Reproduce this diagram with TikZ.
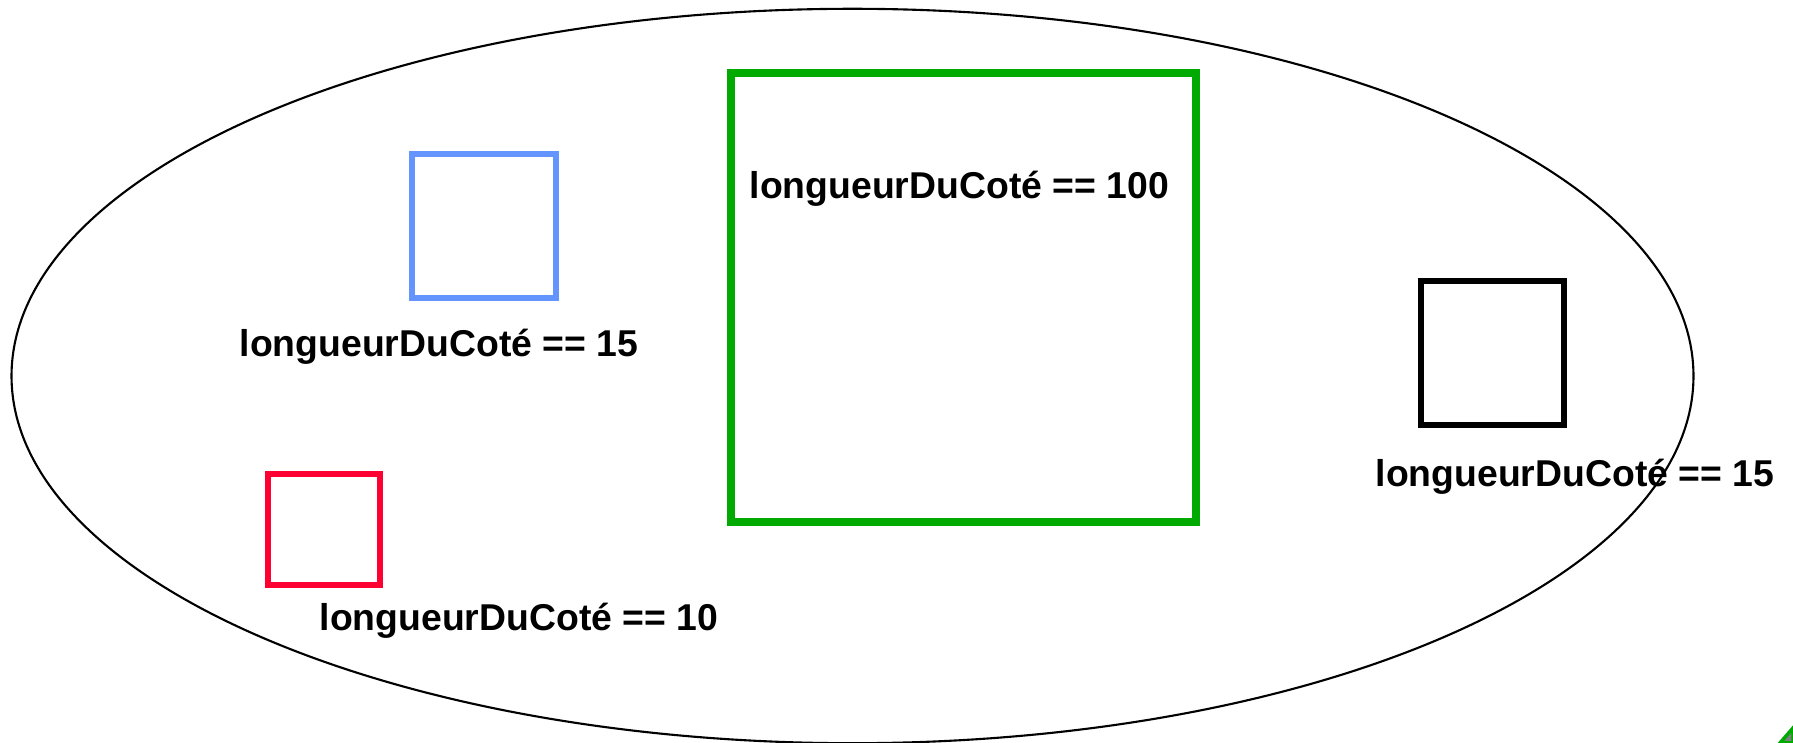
\documentclass[tikz,border=0pt]{standalone}
\usepackage{fontspec}
\setmainfont{Liberation Sans}
\usepackage{xcolor}
\usetikzlibrary{shapes,positioning}

\definecolor{carreBleu}{RGB}{100,149,255}
\definecolor{carreRouge}{RGB}{255,0,51}
\definecolor{carreVert}{RGB}{0,170,0}

\begin{document}
\begin{tikzpicture}[
    x=0.01cm, y=-0.01cm,
    carre/.style={rectangle, draw, inner sep=0pt, line width=1.6pt},
    etiquette/.style={anchor=base west, inner sep=0pt, font=\fontsize{10.62}{12}\selectfont\bfseries}
]
    \useasboundingbox (0,0) rectangle (1793,743);

    \node[ellipse, draw, line width=0.6pt, inner sep=0pt, minimum width=16.81cm, minimum height=7.34cm] (ensemble) at (852.5,376) {};

    \node[carre, draw=carreBleu, minimum width=1.44cm, minimum height=1.44cm] (bleu) at (484,226) {};
    \node[carre, draw=carreRouge, minimum width=1.12cm, minimum height=1.11cm] (rouge) at (324,529.5) {};
    \node[carre, draw=black, minimum width=1.43cm, minimum height=1.44cm] (noir) at (1492.5,353) {};
    \node[carre, draw=carreVert, line width=2.3pt, minimum width=4.65cm, minimum height=4.485cm] (vert) at (963.5,297.25) {};

    \node[etiquette] (labelBleu) at (239,357) {longueurDuCoté == 15};
    \node[etiquette] (labelVert) at (749,199) {longueurDuCoté == 100};
    \node[etiquette] (labelRouge) at (319,631) {longueurDuCoté == 10};
    \node[etiquette] (labelNoir) at (1375,487) {longueurDuCoté == 15};

    % coin vert en bas a droite
    \filldraw[fill=gray, draw=carreVert, line width=1pt] (1780,743) -- (1793,728) -- (1793,743) -- cycle;
\end{tikzpicture}
\end{document}
